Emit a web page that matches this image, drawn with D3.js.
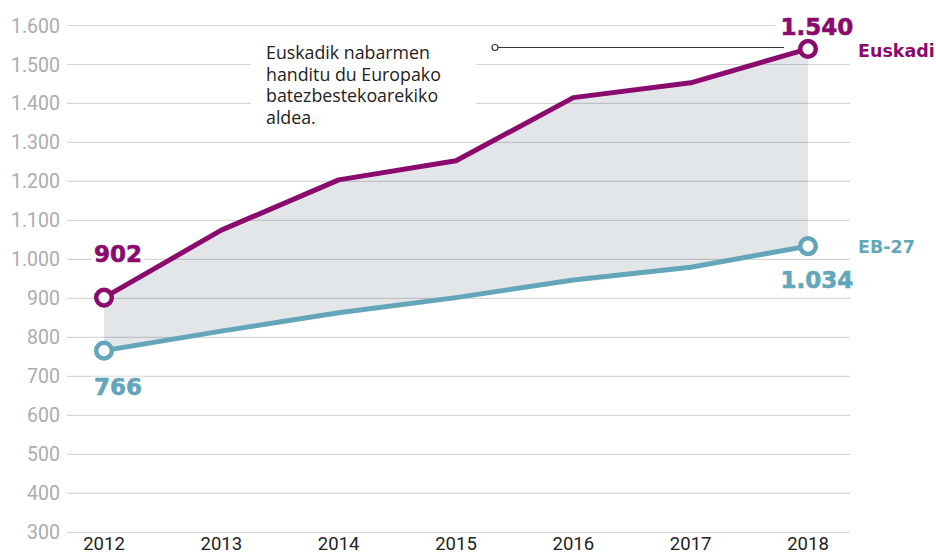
<!DOCTYPE html>
<html>
<head>
<meta charset="utf-8">
<script src="https://cdn.jsdelivr.net/npm/d3@7"></script>
<style>
  html, body { margin: 0; padding: 0; background: #fff; }
  svg { display: block; }
</style>
</head>
<body>
<div id="chart"></div>
<script>
// data
const years = [2012, 2013, 2014, 2015, 2016, 2017, 2018];
const euskadi = [902, 1075, 1204, 1253, 1415, 1453, 1540];
const eb27 = [766, 816, 863, 902, 947, 980, 1034];
const yTicks = [300, 400, 500, 600, 700, 800, 900, 1000, 1100, 1200, 1300, 1400, 1500, 1600];
const noteLines = ['Euskadik nabarmen', 'handitu du Europako', 'batezbestekoarekiko', 'aldea.'];

const width = 936, height = 555;
const purple = '#8a0b6d', teal = '#64a6b9';

const locale = d3.formatLocale({ decimal: ',', thousands: '.', grouping: [3], currency: ['', '€'] });
const fmt = locale.format(',d');

const svg = d3.select('#chart').append('svg')
  .attr('width', width)
  .attr('height', height);

const x = d3.scaleLinear().domain([2012, 2018]).range([104, 808]);
const y = d3.scaleLinear().domain([300, 1600]).range([532.3, 25.5]);

const rows = years.map((yr, i) => ({ year: yr, eus: euskadi[i], eb: eb27[i] }));

// shaded gap between the two series
const area = d3.area()
  .x(d => x(d.year))
  .y0(d => y(d.eb))
  .y1(d => y(d.eus));

svg.append('path')
  .datum(rows)
  .attr('d', area)
  .attr('fill', '#e3e6e9');

// gridlines
svg.append('g')
  .selectAll('line')
  .data(yTicks)
  .join('line')
  .attr('x1', 67)
  .attr('x2', 850)
  .attr('y1', d => y(d))
  .attr('y2', d => y(d))
  .attr('stroke', '#000')
  .attr('stroke-opacity', 0.16)
  .attr('stroke-width', 1.2);

// y labels
svg.append('g')
  .selectAll('text')
  .data(yTicks)
  .join('text')
  .attr('x', 60)
  .attr('y', d => y(d))
  .attr('dy', '0.36em')
  .attr('text-anchor', 'end')
  .attr('font-family', 'Roboto, "Liberation Sans", sans-serif')
  .attr('font-size', 19.5)
  .attr('fill', '#acacac')
  .text(d => fmt(d));

// x labels
svg.append('g')
  .selectAll('text')
  .data(years)
  .join('text')
  .attr('x', d => x(d))
  .attr('y', 550)
  .attr('text-anchor', 'middle')
  .attr('font-family', 'Roboto, "Liberation Sans", sans-serif')
  .attr('font-size', 18.5)
  .attr('fill', '#222')
  .text(d => d);

// annotation box
svg.append('rect')
  .attr('x', 251).attr('y', 31)
  .attr('width', 225).attr('height', 103)
  .attr('fill', '#fff');

svg.append('text')
  .attr('font-family', '"Open Sans", sans-serif')
  .attr('font-size', 17.8)
  .attr('fill', '#222')
  .selectAll('tspan')
  .data(noteLines)
  .join('tspan')
  .attr('x', 266)
  .attr('y', (d, i) => 59 + i * 21.7)
  .text(d => d);

svg.append('line')
  .attr('x1', 498).attr('x2', 784)
  .attr('y1', 47.5).attr('y2', 47.5)
  .attr('stroke', '#333')
  .attr('stroke-width', 1);
svg.append('circle')
  .attr('cx', 495).attr('cy', 47.5).attr('r', 3)
  .attr('fill', '#fff')
  .attr('stroke', '#333')
  .attr('stroke-width', 1.2);

// lines
const series = [
  { key: 'eus', color: purple },
  { key: 'eb', color: teal }
];

const boldFont = '"DejaVu Sans", sans-serif';

// value labels (with white backing so gridlines break under them)
const first = rows[0], last = rows[rows.length - 1];
const valueLabels = [
  { text: fmt(first.eus), x: x(first.year) + 14, y: y(first.eus) - 36, color: purple },
  { text: fmt(first.eb), x: x(first.year) + 14, y: y(first.eb) + 44, color: teal },
  { text: fmt(last.eus), x: x(last.year) + 9, y: y(last.eus) - 14, color: purple },
  { text: fmt(last.eb), x: x(last.year) + 9, y: y(last.eb) + 42, color: teal }
];

const vl = svg.append('g')
  .selectAll('g')
  .data(valueLabels)
  .join('g');

vl.append('rect')
  .attr('x', d => d.x - (d.text.length * 7.5 + 4))
  .attr('y', d => d.y - 18)
  .attr('width', d => d.text.length * 15 + 8)
  .attr('height', 22)
  .attr('fill', '#fff');

svg.append('g')
  .selectAll('path')
  .data(series)
  .join('path')
  .attr('d', s => d3.line().x(d => x(d.year)).y(d => y(d[s.key]))(rows))
  .attr('fill', 'none')
  .attr('stroke', s => s.color)
  .attr('stroke-width', 5)
  .attr('stroke-linejoin', 'round');

// end markers
const markers = [];
series.forEach(s => {
  markers.push({ year: first.year, v: first[s.key], color: s.color });
  markers.push({ year: last.year, v: last[s.key], color: s.color });
});

svg.append('g')
  .selectAll('circle')
  .data(markers)
  .join('circle')
  .attr('cx', d => x(d.year))
  .attr('cy', d => y(d.v))
  .attr('r', 7.8)
  .attr('fill', '#fff')
  .attr('stroke', d => d.color)
  .attr('stroke-width', 4.5);

vl.append('text')
  .attr('x', d => d.x)
  .attr('y', d => d.y)
  .attr('text-anchor', 'middle')
  .attr('font-family', boldFont)
  .attr('font-weight', 'bold')
  .attr('font-size', 23)
  .attr('fill', d => d.color)
  .attr('stroke', d => d.color)
  .attr('stroke-width', 0.6)
  .text(d => d.text);

// series names
svg.append('text')
  .attr('x', 858).attr('y', y(last.eus) + 8)
  .attr('font-family', boldFont)
  .attr('font-weight', 'bold')
  .attr('font-size', 17.5)
  .attr('fill', purple)
  .text('Euskadi');

svg.append('text')
  .attr('x', 858).attr('y', y(last.eb) + 7)
  .attr('font-family', boldFont)
  .attr('font-weight', 'bold')
  .attr('font-size', 17.5)
  .attr('fill', teal)
  .text('EB-27');
</script>
</body>
</html>
